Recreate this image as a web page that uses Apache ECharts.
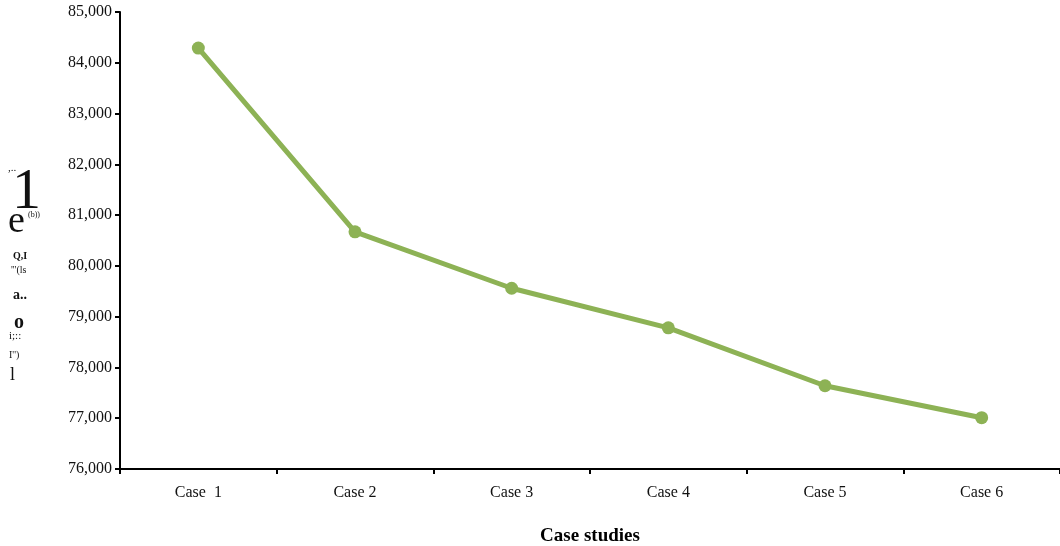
<!DOCTYPE html>
<html><head><meta charset="utf-8">
<script src="https://cdn.jsdelivr.net/npm/echarts@6/dist/echarts.min.js"></script>
<style>html,body{margin:0;padding:0;background:#fff}#c{width:1060px;height:546px}</style>
</head><body><div id="c"></div>
<script>
const categories = ['Case  1', 'Case 2', 'Case 3', 'Case 4', 'Case 5', 'Case 6'];
const values = [84290, 80670, 79560, 78780, 77640, 77010];
const yTitleFragments = [',..', '1', 'e', '(b))', 'Q,I', "'''(ls", 'a..', 'o', 'i;::', "I'')", 'l'];
const xTitle = 'Case studies';

const chart = echarts.init(document.getElementById('c'));
const ff = '"Liberation Serif", "Times New Roman", serif';
const frag = [
  {t: yTitleFragments[0], x: 8, y: 163, s: 11, w: 'normal'},
  {t: yTitleFragments[1], x: 12, y: 164, s: 58, w: 'normal'},
  {t: yTitleFragments[2], x: 8, y: 203, s: 38, w: 'normal'},
  {t: yTitleFragments[3], x: 28, y: 211, s: 8, w: 'normal'},
  {t: yTitleFragments[4], x: 13, y: 251, s: 10, w: 'bold'},
  {t: yTitleFragments[5], x: 11, y: 265, s: 10, w: 'normal'},
  {t: yTitleFragments[6], x: 13, y: 288, s: 14, w: 'bold'},
  {t: yTitleFragments[7], x: 14, y: 313, s: 20, w: 'bold'},
  {t: yTitleFragments[8], x: 9, y: 331, s: 11, w: 'normal'},
  {t: yTitleFragments[9], x: 9, y: 350, s: 10, w: 'normal'},
  {t: yTitleFragments[10], x: 10, y: 366, s: 18, w: 'normal'}
];
chart.setOption({
  backgroundColor: '#fff',
  animation: false,
  grid: {left: 120, right: 0, top: 12, bottom: 77, containLabel: false, outerBoundsMode: 'none'},
  xAxis: {
    type: 'category', data: categories, boundaryGap: true,
    axisLine: {lineStyle: {color: '#000', width: 2}},
    axisTick: {show: true, length: 5, lineStyle: {color: '#000', width: 2}},
    axisLabel: {color: '#111', fontFamily: ff, fontSize: 16, margin: 16},
    name: xTitle, nameLocation: 'middle', nameGap: 58,
    nameTextStyle: {color: '#000', fontFamily: ff, fontSize: 19, fontWeight: 'bold'}
  },
  yAxis: {
    type: 'value', min: 76000, max: 85000, interval: 1000,
    axisLine: {show: true, lineStyle: {color: '#000', width: 2}},
    axisTick: {show: true, length: 5, lineStyle: {color: '#000', width: 2}},
    splitLine: {show: false},
    axisLabel: {color: '#111', fontFamily: ff, fontSize: 16, margin: 8,
      formatter: v => v.toLocaleString('en-US')}
  },
  series: [{
    type: 'line', data: values,
    lineStyle: {color: '#8db255', width: 5},
    itemStyle: {color: '#8db255'},
    symbol: 'circle', symbolSize: 13
  }],
  graphic: frag.map(f => ({
    type: 'text', left: f.x, top: f.y,
    style: {text: f.t, fontFamily: ff, fontSize: f.s, fontWeight: f.w, fill: '#111'}
  }))
});
</script></body></html>
